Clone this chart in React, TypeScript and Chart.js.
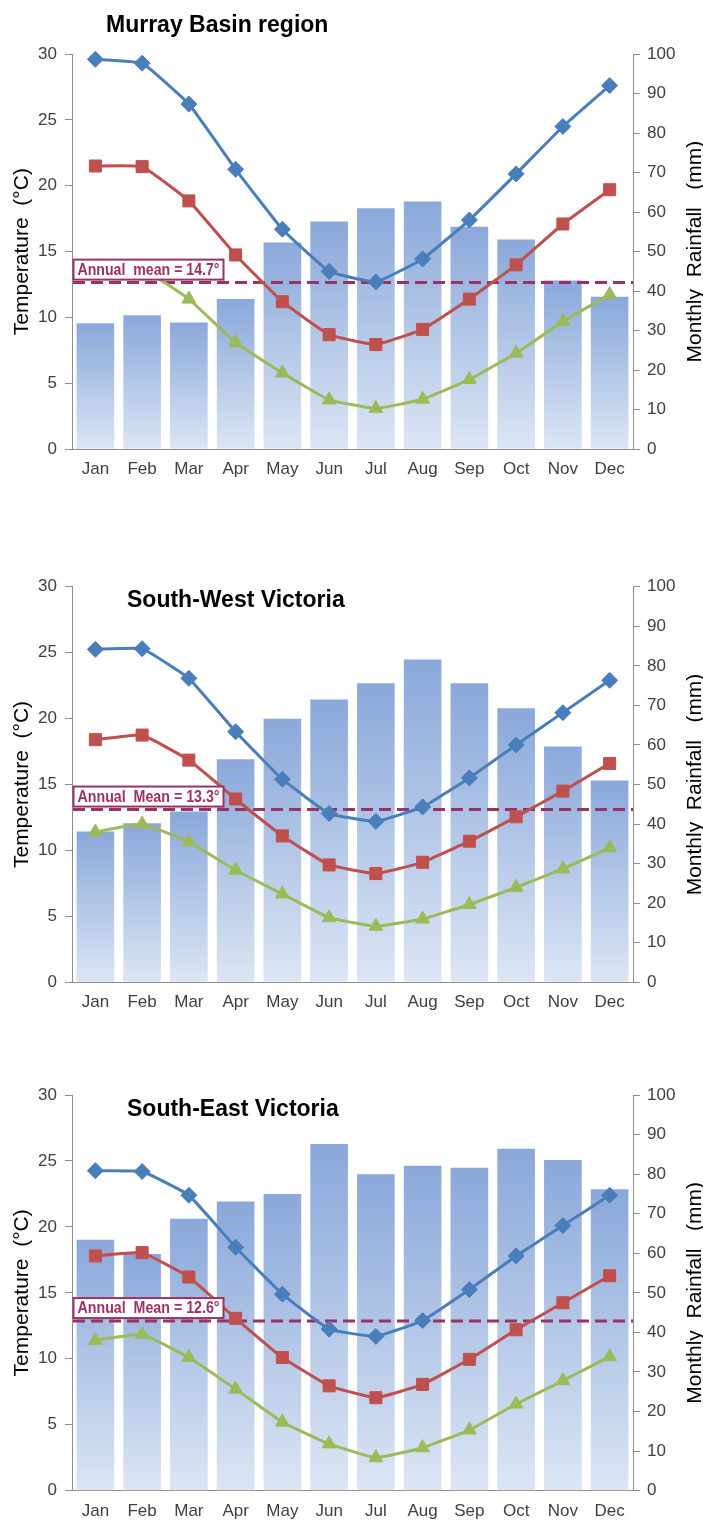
import React, { useEffect, useRef } from 'react';
import { Chart, registerables } from 'chart.js';

Chart.register(...registerables);

// ---------------- data ----------------
const months = ['Jan', 'Feb', 'Mar', 'Apr', 'May', 'Jun', 'Jul', 'Aug', 'Sep', 'Oct', 'Nov', 'Dec'];
const tempTicks = [0, 5, 10, 15, 20, 25, 30];
const rainTicks = [0, 10, 20, 30, 40, 50, 60, 70, 80, 90, 100];

const murrayTitle = 'Murray Basin region';
const murrayRain = [31.9, 33.9, 32.1, 38.0, 52.3, 57.6, 61.0, 62.7, 56.3, 53.1, 42.7, 38.6];
const murrayMax = [29.6, 29.3, 26.2, 21.25, 16.7, 13.5, 12.7, 14.45, 17.4, 20.9, 24.5, 27.6];
const murrayMean = [21.5, 21.45, 18.85, 14.75, 11.2, 8.7, 7.95, 9.1, 11.4, 14.0, 17.1, 19.7];
const murrayMin = [13.6, 13.7, 11.4, 8.1, 5.8, 3.75, 3.1, 3.8, 5.3, 7.3, 9.7, 11.75];
const murrayMeanLine = 12.65;
const murrayMeanLabel = 'Annual  mean = 14.7°';

const swTitle = 'South-West Victoria';
const swRain = [38.1, 40.2, 43.2, 56.4, 66.6, 71.5, 75.6, 81.6, 75.6, 69.25, 59.6, 51.0];
const swMax = [25.25, 25.3, 23.05, 19.0, 15.4, 12.8, 12.2, 13.3, 15.5, 18.0, 20.45, 22.9];
const swMean = [18.4, 18.75, 16.85, 13.9, 11.1, 8.9, 8.25, 9.1, 10.7, 12.55, 14.5, 16.6];
const swMin = [11.4, 12.0, 10.65, 8.5, 6.7, 4.9, 4.25, 4.8, 5.9, 7.2, 8.6, 10.2];
const swMeanLine = 13.1;
const swMeanLabel = 'Annual  Mean = 13.3°';

const seTitle = 'South-East Victoria';
const seRain = [63.4, 59.8, 68.7, 73.1, 75.0, 87.6, 80.0, 82.1, 81.6, 86.4, 83.6, 76.2];
const seMax = [24.26, 24.2, 22.4, 18.45, 14.9, 12.25, 11.7, 12.9, 15.25, 17.8, 20.1, 22.4];
const seMean = [17.8, 18.05, 16.2, 13.07, 10.1, 7.95, 7.05, 8.06, 9.96, 12.2, 14.25, 16.3];
const seMin = [11.4, 11.85, 10.1, 7.7, 5.2, 3.55, 2.5, 3.26, 4.6, 6.57, 8.34, 10.16];
const seMeanLine = 12.86;
const seMeanLabel = 'Annual  Mean = 12.6°';

const leftAxisTitle = 'Temperature  (°C)';
const rightAxisTitle = 'Monthly  Rainfall   (mm)';

// ---------------- styles ----------------
const FONT = "'Liberation Sans', Arial, Helvetica, sans-serif";
const BLUE = '#4A7EBB';
const RED = '#C0504D';
const GREEN = '#9BBB59';
const PURPLE = '#993366';
const AXIS = '#8E8E8E';
const TICK_TEXT = '#404040';
const BAR_TOP = '#8AA8DA';
const BAR_BOTTOM = '#DCE6F4';

Chart.defaults.font.family = FONT;

type Panel = {
  title: string;
  rain: number[];
  tMax: number[];
  tMean: number[];
  tMin: number[];
  meanLine: number;
  meanLabel: string;
  top: number;
  height: number;
  plotTop: number;
  plotBottom: number;
  titleX: number;
  titleBaseline: number;
};

const panels: Panel[] = [
  {
    title: murrayTitle, rain: murrayRain, tMax: murrayMax, tMean: murrayMean, tMin: murrayMin,
    meanLine: murrayMeanLine, meanLabel: murrayMeanLabel,
    top: 0, height: 500, plotTop: 54, plotBottom: 449.3, titleX: 106, titleBaseline: 31.5,
  },
  {
    title: swTitle, rain: swRain, tMax: swMax, tMean: swMean, tMin: swMin,
    meanLine: swMeanLine, meanLabel: swMeanLabel,
    top: 540, height: 490, plotTop: 46.7, plotBottom: 442.3, titleX: 127, titleBaseline: 67,
  },
  {
    title: seTitle, rain: seRain, tMax: seMax, tMean: seMean, tMin: seMin,
    meanLine: seMeanLine, meanLabel: seMeanLabel,
    top: 1040, height: 480, plotTop: 55, plotBottom: 450.7, titleX: 127, titleBaseline: 75.5,
  },
];

const decorPlugin = {
  id: 'decor',
  afterDatasetDraw(chart: any, args: any, opts: any) {
    if (args.index !== 0) return;
    const { ctx, chartArea: a, scales } = chart;
    const y = scales.y.getPixelForValue(opts.meanLine);
    ctx.save();
    ctx.strokeStyle = PURPLE;
    ctx.lineWidth = 3;
    ctx.setLineDash([12, 6]);
    ctx.beginPath();
    ctx.moveTo(a.left + 1, y);
    ctx.lineTo(a.right, y);
    ctx.stroke();
    ctx.restore();
  },
  afterDatasetsDraw(chart: any, _args: any, opts: any) {
    const { ctx, chartArea: a, scales } = chart;
    const y = scales.y.getPixelForValue(opts.meanLine);
    const bx = a.left + 1.5;
    const bw = 150;
    const bh = 20;
    const by = y - 3 - bh;
    ctx.save();
    ctx.fillStyle = '#FFFFFF';
    ctx.fillRect(bx, by, bw, bh);
    ctx.strokeStyle = PURPLE;
    ctx.lineWidth = 2;
    ctx.strokeRect(bx, by, bw, bh);
    ctx.fillStyle = PURPLE;
    ctx.font = `bold 16px ${FONT}`;
    ctx.textBaseline = 'middle';
    ctx.textAlign = 'left';
    const w = ctx.measureText(opts.meanLabel).width;
    const sx = Math.min(1, (bw - 8) / w);
    ctx.translate(bx + 4, by + bh / 2 + 1);
    ctx.scale(sx, 1);
    ctx.fillText(opts.meanLabel, 0, 0);
    ctx.restore();
  },
  afterDraw(chart: any, _args: any, opts: any) {
    const { ctx, chartArea: a } = chart;
    const cy = (a.top + a.bottom) / 2;
    ctx.save();
    ctx.fillStyle = '#000000';
    ctx.font = `bold 23px ${FONT}`;
    ctx.textAlign = 'left';
    ctx.textBaseline = 'alphabetic';
    ctx.fillText(opts.title, opts.titleX, opts.titleBaseline);

    ctx.font = `21px ${FONT}`;
    ctx.textAlign = 'center';
    ctx.save();
    ctx.translate(28, cy);
    ctx.rotate(-Math.PI / 2);
    ctx.fillText(leftAxisTitle, 0, 0);
    ctx.restore();
    ctx.save();
    ctx.translate(701, cy);
    ctx.rotate(-Math.PI / 2);
    ctx.fillText(rightAxisTitle, 0, 0);
    ctx.restore();
    ctx.restore();
  },
};

function barGradient(ctx: any) {
  const chart = ctx.chart;
  const area = chart.chartArea;
  if (!area || ctx.type !== 'data' || !chart.scales.y2) return BAR_TOP;
  const yTop = chart.scales.y2.getPixelForValue(ctx.raw);
  const g = chart.ctx.createLinearGradient(0, yTop, 0, area.bottom);
  g.addColorStop(0, BAR_TOP);
  g.addColorStop(1, BAR_BOTTOM);
  return g;
}

function lineDataset(data: number[], color: string, style: string, radius: number, order: number) {
  return {
    type: 'line' as const,
    data,
    yAxisID: 'y',
    borderColor: color,
    backgroundColor: color,
    borderWidth: 3,
    pointStyle: style,
    pointRadius: radius,
    pointBackgroundColor: color,
    pointBorderColor: color,
    pointBorderWidth: 1,
    tension: 0.1,
    clip: false,
    order,
  };
}

function ClimateChart({ panel }: { panel: Panel }) {
  const ref = useRef<HTMLCanvasElement | null>(null);
  useEffect(() => {
    if (!ref.current) return;
    const chart = new Chart(ref.current, {
      data: {
        labels: months,
        datasets: [
          {
            type: 'bar',
            data: panel.rain,
            yAxisID: 'y2',
            backgroundColor: barGradient,
            borderWidth: 0,
            categoryPercentage: 0.805,
            barPercentage: 1,
            order: 10,
          },
          lineDataset(panel.tMin, GREEN, 'triangle', 8, 3),
          lineDataset(panel.tMean, RED, 'rect', 8.5, 2),
          lineDataset(panel.tMax, BLUE, 'rectRot', 8, 1),
        ] as any,
      },
      options: {
        responsive: false,
        animation: false,
        devicePixelRatio: 1,
        layout: { padding: { top: panel.plotTop, left: 0, right: 0, bottom: 0 } },
        plugins: {
          legend: { display: false },
          tooltip: { enabled: false },
          title: { display: false },
          decor: {
            title: panel.title,
            titleX: panel.titleX,
            titleBaseline: panel.titleBaseline,
            meanLine: panel.meanLine,
            meanLabel: panel.meanLabel,
          },
        } as any,
        scales: {
          x: {
            type: 'category',
            offset: true,
            grid: { display: false, drawTicks: false, tickLength: 0 },
            border: { display: true, color: AXIS, width: 1 },
            ticks: { color: TICK_TEXT, font: { size: 17, family: FONT }, padding: 10, maxRotation: 0, autoSkip: false },
            afterFit: (s: any) => { s.height = panel.height - panel.plotBottom; },
          },
          y: {
            position: 'left',
            min: 0,
            max: 30,
            afterBuildTicks: (s: any) => { s.ticks = tempTicks.map((v) => ({ value: v })); },
            grid: { display: true, drawOnChartArea: false, drawTicks: true, tickLength: 7, color: AXIS },
            border: { display: true, color: AXIS, width: 1 },
            ticks: { color: TICK_TEXT, font: { size: 17, family: FONT }, padding: 8 },
            afterFit: (s: any) => { s.width = 72; },
          },
          y2: {
            position: 'right',
            min: 0,
            max: 100,
            afterBuildTicks: (s: any) => { s.ticks = rainTicks.map((v) => ({ value: v })); },
            grid: { display: true, drawOnChartArea: false, drawTicks: true, tickLength: 7, color: AXIS },
            border: { display: true, color: AXIS, width: 1 },
            ticks: { color: TICK_TEXT, font: { size: 17, family: FONT }, padding: 7 },
            afterFit: (s: any) => { s.width = 70; },
          },
        },
      } as any,
      plugins: [decorPlugin as any],
    });
    return () => chart.destroy();
  }, [panel]);
  return (
    <canvas
      ref={ref}
      width={703}
      height={panel.height}
      style={{ position: 'absolute', left: 0, top: panel.top, width: 703, height: panel.height }}
    />
  );
}

export default function App() {
  return (
    <div style={{ position: 'absolute', left: 0, top: 0, width: 703, height: 1520, background: '#FFFFFF', overflow: 'hidden' }}>
      {panels.map((p, i) => (
        <ClimateChart key={i} panel={p} />
      ))}
    </div>
  );
}
